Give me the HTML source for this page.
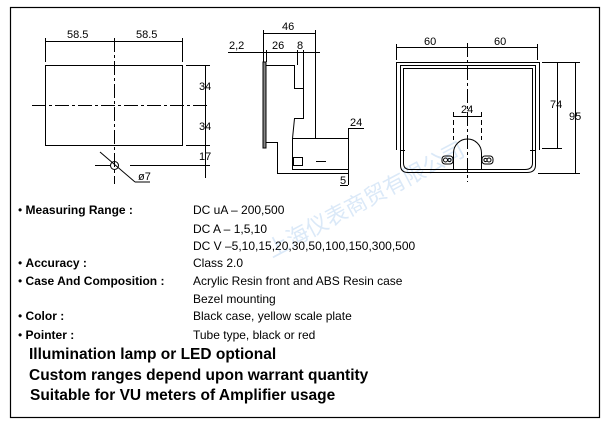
<!DOCTYPE html>
<html><head><meta charset="utf-8"><style>
body{margin:0;background:#fff;width:611px;height:428px;overflow:hidden;font-family:"Liberation Sans",Arial,sans-serif}
.t{position:absolute;font-size:12px;color:#000;white-space:nowrap}
.b{position:absolute;font-size:15.5px;font-weight:bold;white-space:nowrap}
</style></head><body>
<svg width="611" height="428" style="position:absolute;left:0;top:0" font-family="Liberation Sans, Arial, sans-serif" font-size="11">
<rect x="10.5" y="7.5" width="589" height="410" fill="none" stroke="#000" stroke-width="1.2"/>
<text x="272" y="258" font-size="22" fill="#dbe9f8" transform="rotate(-28 272 258)" font-family="Noto Sans CJK SC, sans-serif">上海仪表商贸有限公司</text>
<g stroke="#000" stroke-width="1" fill="none">
<rect x="45.5" y="65.5" width="137" height="80"/>
<line x1="45.5" y1="38" x2="45.5" y2="62"/><line x1="182.5" y1="38" x2="182.5" y2="62"/>
<line x1="45.5" y1="41.5" x2="182.5" y2="41.5"/>
<line x1="32" y1="105.5" x2="208" y2="105.5" stroke-dasharray="14,3,3,3"/>
<line x1="114.5" y1="38" x2="114.5" y2="184" stroke-dasharray="14,3,3,3"/>
<line x1="186" y1="65.5" x2="210" y2="65.5"/><line x1="186" y1="145.5" x2="210" y2="145.5"/>
<line x1="205.5" y1="65" x2="205.5" y2="178"/>
<line x1="130" y1="165.5" x2="210" y2="165.5"/><line x1="95" y1="165.5" x2="110" y2="165.5"/>
<circle cx="114.5" cy="165.5" r="4"/>
<line x1="100" y1="152" x2="135" y2="182"/><line x1="135" y1="182" x2="150" y2="182"/>
<line x1="263.5" y1="30" x2="263.5" y2="62"/><line x1="315.5" y1="30" x2="315.5" y2="138"/>
<line x1="263.5" y1="33.5" x2="315.5" y2="33.5"/>
<line x1="228" y1="52.5" x2="320" y2="52.5"/>
<line x1="266.5" y1="50" x2="266.5" y2="62"/>
<line x1="297.5" y1="50" x2="297.5" y2="65"/><line x1="303.5" y1="50" x2="303.5" y2="88"/>
<rect x="263" y="62" width="3" height="86" fill="#888"/>
<polyline points="266,65.5 294.5,65.5 294.5,88.5 303.5,88.5 303.5,118.5 294.5,118.5 292.5,138.5 348,138.5"/>
<polyline points="266,142.5 277.5,142.5 277.5,173.5 348,173.5"/>
<line x1="292.5" y1="138" x2="292.5" y2="170"/>
<line x1="292" y1="169.5" x2="348" y2="169.5"/>
<rect x="293.5" y="157.5" width="9" height="8"/>
<line x1="316" y1="161.5" x2="326" y2="161.5"/>
<line x1="348.5" y1="128" x2="348.5" y2="185"/>
<line x1="348" y1="128.5" x2="364" y2="128.5"/>
<line x1="340" y1="185.5" x2="348" y2="185.5"/>
<line x1="396.5" y1="44" x2="396.5" y2="60"/><line x1="537.5" y1="44" x2="537.5" y2="60"/>
<line x1="396.5" y1="47.5" x2="537.5" y2="47.5"/>
<line x1="467.5" y1="43" x2="467.5" y2="182" stroke-dasharray="14,3,3,3"/>
<polyline points="396.5,150 396.5,62.5 539.5,62.5 539.5,150"/>
<polyline points="400.5,150 400.5,65.5 535.5,65.5 535.5,150"/>
<path d="M403.5,150 V68.5 H532.5 V150"/>
<path d="M400.5,148 V165 Q400.5,172.5 408,172.5 H527 Q535.5,172.5 535.5,165 V148"/>
<path d="M403.5,148 V163 Q403.5,169.5 410,169.5 H525 Q532.5,169.5 532.5,163 V148"/>
<line x1="400" y1="150.5" x2="405" y2="150.5"/><line x1="530" y1="150.5" x2="536" y2="150.5"/>
<path d="M453.5,170 V153 A14,14 0 0 1 481.5,153 V170"/>
<line x1="453.5" y1="112" x2="453.5" y2="140" stroke-dasharray="5,3"/>
<line x1="481.5" y1="112" x2="481.5" y2="140" stroke-dasharray="5,3"/>
<line x1="453.5" y1="116.5" x2="481.5" y2="116.5"/>
<rect x="442" y="156" width="11" height="8" rx="3"/><rect x="482" y="156" width="11" height="8" rx="3"/>
<circle cx="445.5" cy="160" r="2"/><circle cx="449.5" cy="160" r="1.6"/>
<circle cx="489" cy="160" r="2"/><circle cx="485.5" cy="160" r="1.6"/>
<line x1="542" y1="62.5" x2="580" y2="62.5"/><line x1="542" y1="148.5" x2="562" y2="148.5"/>
<line x1="538" y1="173.5" x2="580" y2="173.5"/>
<line x1="557.5" y1="62" x2="557.5" y2="148"/>
<line x1="575.5" y1="62" x2="575.5" y2="173"/>
</g>
<g fill="#000">
<text x="67" y="38">58.5</text><text x="136" y="38">58.5</text>
<text x="199" y="90">34</text><text x="199" y="130">34</text><text x="199" y="160">17</text>
<text x="138" y="180">ø7</text>
<text x="282" y="30">46</text><text x="229" y="49">2,2</text><text x="272" y="49">26</text><text x="297" y="49">8</text>
<text x="350" y="126">24</text><text x="340" y="184">5</text>
<text x="424" y="45">60</text><text x="494" y="45">60</text>
<text x="461" y="113">24</text>
<text x="550" y="108">74</text><text x="569" y="120">95</text>
</g>
</svg>
<div class="t" style="left:18px;top:203px">• <b>Measuring Range :</b></div><div class="t" style="left:193px;top:203px">DC uA – 200,500</div>
<div class="t" style="left:193px;top:222px">DC A – 1,5,10</div>
<div class="t" style="left:193px;top:239px">DC V –5,10,15,20,30,50,100,150,300,500</div>
<div class="t" style="left:18px;top:256px">• <b>Accuracy :</b></div><div class="t" style="left:193px;top:256px">Class 2.0</div>
<div class="t" style="left:18px;top:274px">• <b>Case And Composition :</b></div><div class="t" style="left:193px;top:274px">Acrylic Resin front and ABS Resin case</div>
<div class="t" style="left:193px;top:292px">Bezel mounting</div>
<div class="t" style="left:18px;top:309px">• <b>Color :</b></div><div class="t" style="left:193px;top:309px">Black case, yellow scale plate</div>
<div class="t" style="left:18px;top:328px">• <b>Pointer :</b></div><div class="t" style="left:193px;top:328px">Tube type, black or red</div>
<div class="b" style="left:29px;top:346px">Illumination lamp or LED optional</div>
<div class="b" style="left:29px;top:367px">Custom ranges depend upon warrant quantity</div>
<div class="b" style="left:30px;top:387px">Suitable for VU meters of Amplifier usage</div>
</body></html>
